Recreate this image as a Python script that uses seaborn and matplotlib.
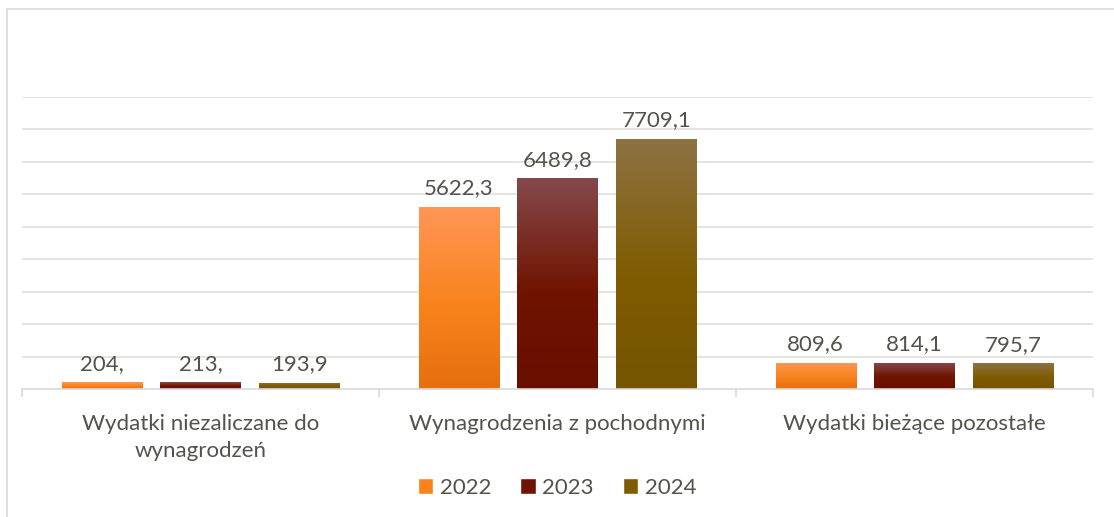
import matplotlib.pyplot as plt
import numpy as np
import pandas as pd
import seaborn as sns
from matplotlib.colors import LinearSegmentedColormap
from matplotlib.patches import Rectangle, Patch

# data
categories = ['Wydatki niezaliczane do\nwynagrodzeń', 'Wynagrodzenia z pochodnymi', 'Wydatki bieżące pozostałe']
years = ['2022', '2023', '2024']
v2022 = [204.0, 5622.3, 809.6]
v2023 = [213.0, 6489.8, 814.1]
v2024 = [193.9, 7709.1, 795.7]
labels2022 = ['204,', '5622,3', '809,6']
labels2023 = ['213,', '6489,8', '814,1']
labels2024 = ['193,9', '7709,1', '795,7']

# gradient colours per year: top, middle, bottom
grads = {
    '2022': ['#ff9656', '#f8831b', '#e66f0f'],
    '2023': ['#84494a', '#701300', '#690f00'],
    '2024': ['#8d7244', '#7f5c00', '#765400'],
}
text_col = '#53534c'
grid_col = '#e2e2de'

df = pd.DataFrame({
    'cat': categories * 3,
    'year': [y for y in years for _ in categories],
    'value': v2022 + v2023 + v2024,
})
all_labels = [labels2022, labels2023, labels2024]

sns.set_theme(style='white')
plt.rcParams['font.family'] = ['Lato', 'DejaVu Sans']

fig = plt.figure(figsize=(11.14, 5.17), dpi=100)
ax = fig.add_axes([22 / 1114, 1 - 389 / 517, (1093 - 22) / 1114, 292 / 517])

mid_cols = [grads[y][1] for y in years]
sns.barplot(data=df, x='cat', y='value', hue='year', hue_order=years,
            palette=mid_cols, width=0.83, gap=0.19, ax=ax, legend=False,
            errorbar=None, order=categories)

ax.set_ylim(0, 9000)
ax.set_xlim(-0.5, 2.5)
xl, yl = ax.get_xlim(), ax.get_ylim()

# gradient fill for every bar, clipped to the bar drawn by seaborn
for year, cont, labs in zip(years, ax.containers, all_labels):
    cmap = LinearSegmentedColormap.from_list(year, [(0, grads[year][0]), (0.55, grads[year][1]), (1, grads[year][2])])
    for bar, lab in zip(cont, labs):
        x0, y0 = bar.get_x(), bar.get_y()
        w, h = bar.get_width(), bar.get_height()
        grad = np.linspace(0, 1, 100).reshape(-1, 1)
        im = ax.imshow(grad, cmap=cmap, aspect='auto', extent=(x0, x0 + w, y0, y0 + h),
                       origin='upper', zorder=2)
        im.set_clip_path(bar)
        bar.set_facecolor('none')
        bar.set_edgecolor('none')
        ax.annotate(lab, (x0 + w / 2, y0 + h), xytext=(0, 6), textcoords='offset points',
                    ha='center', va='bottom', fontsize=16, color=text_col)

ax.set_xlim(xl)
ax.set_ylim(yl)

ax.set_yticks(np.arange(1000, 9001, 1000))
ax.yaxis.grid(True, color=grid_col, linewidth=1.3)
ax.set_axisbelow(True)
ax.tick_params(axis='y', left=False, labelleft=False)
ax.set_xticks(range(3))
ax.set_xticklabels(categories, fontsize=16, color=text_col, linespacing=1.45)
ax.set_xticks([-0.5, 0.5, 1.5, 2.5], minor=True)
ax.tick_params(axis='x', which='major', length=0, pad=18)
ax.tick_params(axis='x', which='minor', length=6, color='#d9d9d9', width=1.2, bottom=True)
ax.set_xlabel('')
ax.set_ylabel('')
for s in ['top', 'right', 'left']:
    ax.spines[s].set_visible(False)
ax.spines['bottom'].set_color('#d9d9d9')
ax.spines['bottom'].set_linewidth(1.2)

handles = [Patch(facecolor=grads[y][1], label=y) for y in years]
fig.legend(handles=handles, loc='center', bbox_to_anchor=(557 / 1114, 1 - 488 / 517),
           ncol=3, frameon=False, fontsize=16, labelcolor=text_col,
           handlelength=0.7, handleheight=0.7, handletextpad=0.3, columnspacing=1.3)

# outer chart border (cut off at right and bottom)
fig.patches.append(Rectangle((7 / 1114, -0.1), 1.2, 1.1 - 9 / 517, transform=fig.transFigure,
                             fill=False, edgecolor='#d9d9d9', linewidth=1.2))

fig.savefig('out.png', dpi=100)
